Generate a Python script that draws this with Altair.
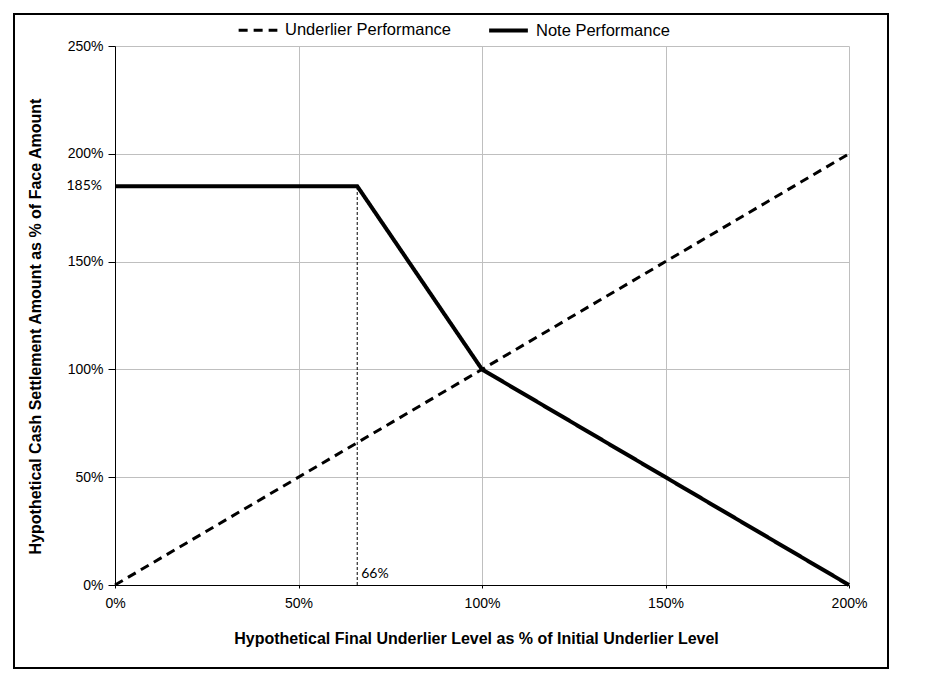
import altair as alt
import pandas as pd

# ---- data ----
series_names = ["Underlier Performance", "Note Performance"]
under_x = [0, 200]
under_y = [0, 200]
note_x = [0, 66, 100, 200]
note_y = [185, 185, 100, 0]
x_ticks = [0, 50, 100, 150, 200]
y_ticks = [0, 50, 100, 150, 200, 250]
barrier_x = [66]
barrier_top = [185]
barrier_label = ["66%"]
cap_value = [185]
cap_label = ["185%"]

rows = []
for i, (x, y) in enumerate(zip(under_x, under_y)):
    rows.append({"x": x, "y": y, "series": series_names[0], "order": i})
for i, (x, y) in enumerate(zip(note_x, note_y)):
    rows.append({"x": x, "y": y, "series": series_names[1], "order": i})
df = pd.DataFrame(rows)

barrier_df = pd.DataFrame({"x": barrier_x, "y0": [0], "y1": barrier_top, "label": barrier_label})
cap_df = pd.DataFrame({"x": [0], "y": cap_value, "label": cap_label})

FONT = "Liberation Sans"

xscale = alt.Scale(domain=[0, 200], nice=False, zero=False)
yscale = alt.Scale(domain=[0, 250], nice=False, zero=False)

xaxis = alt.Axis(
    values=x_ticks, labelExpr="datum.value + '%'", grid=True, gridColor="#BFBFBF",
    domainColor="black", ticks=True, tickColor="black", tickSize=3, labelPadding=8,
    labelFlush=False, labelOverlap=False,
    labelFont=FONT, labelFontSize=14, labelColor="black",
    title="Hypothetical Final Underlier Level as % of Initial Underlier Level",
    titleFont=FONT, titleFontSize=16, titleFontWeight="bold", titleColor="black",
    titlePadding=20, titleX=361,
)
yaxis = alt.Axis(
    values=y_ticks, labelExpr="datum.value + '%'", grid=True, gridColor="#BFBFBF",
    domainColor="black", ticks=True, tickColor="black", tickSize=7, labelPadding=5,
    labelFlush=False, labelOverlap=False,
    labelFont=FONT, labelFontSize=14, labelColor="black",
    title="Hypothetical Cash Settlement Amount as % of Face Amount",
    titleFont=FONT, titleFontSize=16, titleFontWeight="bold", titleColor="black",
    titlePadding=24, titleY=280,
)

lines = alt.Chart(df).mark_line(color="black", strokeCap="butt").encode(
    x=alt.X("x:Q", scale=xscale, axis=xaxis),
    y=alt.Y("y:Q", scale=yscale, axis=yaxis),
    strokeDash=alt.StrokeDash(
        "series:N",
        scale=alt.Scale(domain=series_names, range=[[9, 6], [1, 0]]),
        legend=alt.Legend(
            title=None, orient="none", legendX=122, legendY=-37, direction="horizontal",
            symbolType="stroke", symbolSize=1500, symbolStrokeWidth=3,
            symbolStrokeColor="black", labelFont=FONT, labelFontSize=16.5,
            labelColor="black", labelLimit=400, columnPadding=30, labelOffset=6,
        ),
    ),
    strokeWidth=alt.StrokeWidth(
        "series:N", scale=alt.Scale(domain=series_names, range=[3, 4]), legend=None
    ),
    order="order:Q",
)

barrier = alt.Chart(barrier_df).mark_rule(color="black", strokeWidth=1, strokeDash=[3, 2]).encode(
    x=alt.X("x:Q", scale=xscale), y=alt.Y("y0:Q", scale=yscale), y2="y1:Q"
)
barrier_text = alt.Chart(barrier_df).mark_text(
    align="left", baseline="middle", dx=4, dy=-11, font="Lato", fontSize=14, color="black"
).encode(x=alt.X("x:Q", scale=xscale), y=alt.Y("y0:Q", scale=yscale), text="label:N")

cap_text = alt.Chart(cap_df).mark_text(
    align="right", baseline="middle", dx=-13, font="Lato", fontSize=14, color="black"
).encode(x=alt.X("x:Q", scale=xscale), y=alt.Y("y:Q", scale=yscale), text="label:N")

frame = alt.Chart(alt.Data(values=[{}])).mark_rect(
    fill=None, stroke="black", strokeWidth=2
).encode(x=alt.value(-101), x2=alt.value(773), y=alt.value(-32), y2=alt.value(622))

chart = alt.layer(lines, barrier, barrier_text, cap_text, frame).properties(
    width=734, height=539,
    padding={"left": 115, "top": 46, "right": 78, "bottom": 103},
    autosize=alt.AutoSizeParams(type="none"),
    background="white",
).configure_view(stroke=None)

chart.save("out.html", embed_options={"renderer": "svg", "actions": False})
